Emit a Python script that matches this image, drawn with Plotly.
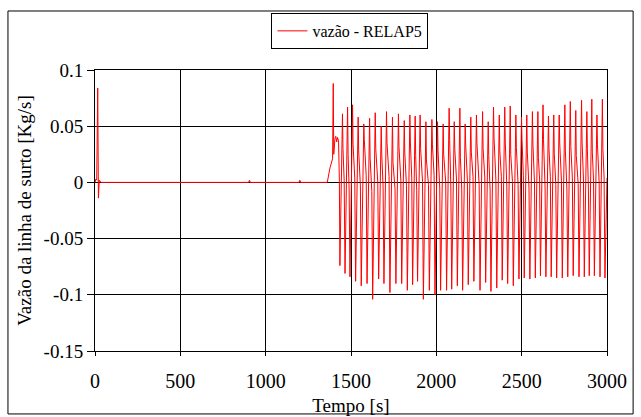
import plotly.graph_objects as go

# --- flow-rate record (time in s, surge-line mass flow in kg/s) ---
# start-up spike and the quiet period before instability
pre_t = [0, 5, 10, 16, 20, 25, 35, 900, 905, 910, 1195, 1200, 1205,
         1361, 1377, 1387, 1392, 1396, 1399, 1406, 1411, 1416, 1421, 1427, 1432]
pre_v = [0.0, 0.003, 0.002, 0.084, -0.014, 0.002, 0.0, 0.0, 0.002, 0.0, 0.0, 0.002, 0.0,
         0.0, 0.013, 0.019, 0.021, 0.088, 0.025, 0.039, 0.041, 0.036, 0.040, 0.037, 0.001]

# oscillation minima
trough_t = [1435, 1465, 1494, 1527, 1560, 1594, 1627, 1662, 1693, 1728, 1763, 1797, 1830,
            1861, 1890, 1924, 1959, 1992, 2025, 2060, 2090, 2123, 2154, 2187, 2220, 2256,
            2289, 2320, 2354, 2386, 2418, 2451, 2484, 2515, 2548, 2580, 2610, 2642, 2673,
            2705, 2738, 2770, 2802, 2836, 2867, 2896, 2926, 2959, 2988]
trough_v = [-0.074, -0.081, -0.084, -0.088, -0.092, -0.090, -0.104, -0.086, -0.090, -0.098,
            -0.090, -0.090, -0.096, -0.091, -0.088, -0.104, -0.096, -0.100, -0.096, -0.096,
            -0.095, -0.092, -0.096, -0.091, -0.088, -0.096, -0.089, -0.097, -0.094, -0.087,
            -0.090, -0.092, -0.086, -0.085, -0.086, -0.085, -0.083, -0.084, -0.084, -0.085,
            -0.085, -0.084, -0.083, -0.084, -0.084, -0.083, -0.083, -0.084, -0.085]

# oscillation maxima
peak_t = [1450, 1480, 1509, 1542, 1575, 1609, 1642, 1677, 1708, 1743, 1778, 1812, 1845,
          1876, 1905, 1939, 1974, 2007, 2040, 2075, 2105, 2138, 2169, 2202, 2235, 2271,
          2304, 2335, 2369, 2401, 2433, 2466, 2499, 2530, 2563, 2595, 2625, 2657, 2688,
          2720, 2753, 2785, 2817, 2851, 2882, 2911, 2941, 2973]
peak_v = [0.061, 0.067, 0.069, 0.058, 0.052, 0.057, 0.062, 0.050, 0.063, 0.058, 0.061,
          0.055, 0.060, 0.059, 0.060, 0.054, 0.056, 0.054, 0.052, 0.066, 0.054, 0.066,
          0.052, 0.058, 0.060, 0.063, 0.054, 0.067, 0.060, 0.067, 0.068, 0.060, 0.058,
          0.060, 0.063, 0.063, 0.069, 0.059, 0.060, 0.060, 0.069, 0.072, 0.064, 0.073,
          0.063, 0.074, 0.060, 0.074]

# shoulder right after each maximum
shoulder_t = [1453, 1483, 1512, 1545, 1578, 1612, 1645, 1680, 1711, 1746, 1781, 1815, 1848,
              1879, 1908, 1942, 1977, 2010, 2043, 2078, 2108, 2141, 2172, 2205, 2238, 2274,
              2307, 2338, 2372, 2404, 2436, 2469, 2502, 2533, 2566, 2598, 2628, 2660, 2691,
              2723, 2756, 2788, 2820, 2854, 2885, 2914, 2944, 2976]
shoulder_v = [0.030, 0.025, 0.034, 0.028, 0.038, 0.022, 0.030, 0.026, 0.035, 0.018, 0.032,
              0.027, 0.036, 0.024, 0.030, 0.020, 0.034, 0.028, 0.025, 0.038, 0.030, 0.022,
              0.033, 0.027, 0.035, 0.030, 0.024, 0.040, 0.028, 0.036, 0.025, 0.031, 0.038,
              0.027, 0.034, 0.022, 0.038, 0.030, 0.026, 0.035, 0.028, 0.032, 0.024, 0.036,
              0.030, 0.027, 0.034, 0.030]

# near-zero plateau before each drop
settle_t = [1460, 1489, 1522, 1555, 1589, 1622, 1657, 1688, 1723, 1758, 1792, 1825, 1856,
            1885, 1919, 1954, 1987, 2020, 2055, 2085, 2118, 2149, 2182, 2215, 2251, 2284,
            2315, 2349, 2381, 2413, 2446, 2479, 2510, 2543, 2575, 2605, 2637, 2668, 2700,
            2733, 2765, 2797, 2831, 2862, 2891, 2921, 2954, 2983]
settle_v = [0.002, -0.006, 0.004, -0.003, 0.006, -0.008, 0.000, -0.004, 0.005, -0.006,
            0.002, -0.003, 0.004, -0.007, 0.001, -0.002, 0.006, -0.005, 0.000, -0.004,
            0.003, -0.006, 0.002, 0.005, -0.003, 0.004, -0.006, 0.002, 0.005, -0.004,
            0.001, -0.002, 0.006, -0.005, 0.000, 0.003, -0.004, 0.005, -0.002, 0.002,
            -0.006, 0.004, -0.001, 0.003, -0.005, 0.002, 0.000, 0.004]

end_t = [3000]
end_v = [0.004]

x_ticks = [0, 500, 1000, 1500, 2000, 2500, 3000]
y_ticks = [-0.15, -0.1, -0.05, 0, 0.05, 0.1]
y_labels = ["-0.15", "-0.1", "-0.05", "0", "0.05", "0.1"]

# merge all samples into one time-ordered series
pts = sorted(
    list(zip(pre_t, pre_v)) + list(zip(trough_t, trough_v)) + list(zip(peak_t, peak_v))
    + list(zip(shoulder_t, shoulder_v)) + list(zip(settle_t, settle_v))
    + list(zip(end_t, end_v))
)
t = [p[0] for p in pts]
v = [p[1] for p in pts]

serif = "Liberation Serif"

fig = go.Figure()
fig.add_trace(go.Scatter(
    x=t, y=v, mode="lines", name="vazão - RELAP5",
    line=dict(color="#ff0000", width=1),
))

fig.update_layout(
    width=641, height=417,
    margin=dict(l=95, r=34, t=70, b=66),
    paper_bgcolor="white", plot_bgcolor="white",
    font=dict(family=serif, size=19, color="black"),
    showlegend=True,
    legend=dict(
        x=0.498, y=1.203, xanchor="center", yanchor="top",
        bordercolor="black", borderwidth=1, bgcolor="white",
        font=dict(family=serif, size=16, color="black"),
        itemwidth=30, tracegroupgap=0,
    ),
    xaxis=dict(
        range=[0, 3000], tickvals=x_ticks, ticktext=[str(x) for x in x_ticks],
        showgrid=True, gridcolor="black", gridwidth=1,
        showline=True, linecolor="black", linewidth=1, mirror=True,
        ticks="outside", ticklen=4, tickcolor="black",
        ticklabelstandoff=8, automargin=False,
        zeroline=False,
        title=dict(text="Tempo [s]", standoff=7, font=dict(family=serif, size=19)),
        tickfont=dict(family=serif, size=20),
    ),
    yaxis=dict(
        range=[-0.15, 0.1], tickvals=y_ticks, ticktext=y_labels,
        showgrid=True, gridcolor="black", gridwidth=1,
        showline=True, linecolor="black", linewidth=1, mirror=True,
        ticks="outside", ticklen=7, tickcolor="black", automargin=False,
        zeroline=False,
        title=dict(text="Vazão da linha de surto [Kg/s]", standoff=6,
                   font=dict(family=serif, size=19)),
        tickfont=dict(family=serif, size=19),
    ),
    shapes=[dict(
        type="rect", xref="paper", yref="paper",
        x0=-0.170, x1=1.051, y0=-0.224, y1=1.21,
        line=dict(color="black", width=1), fillcolor="rgba(0,0,0,0)", layer="below",
    )],
)

fig.write_html("out.html")
